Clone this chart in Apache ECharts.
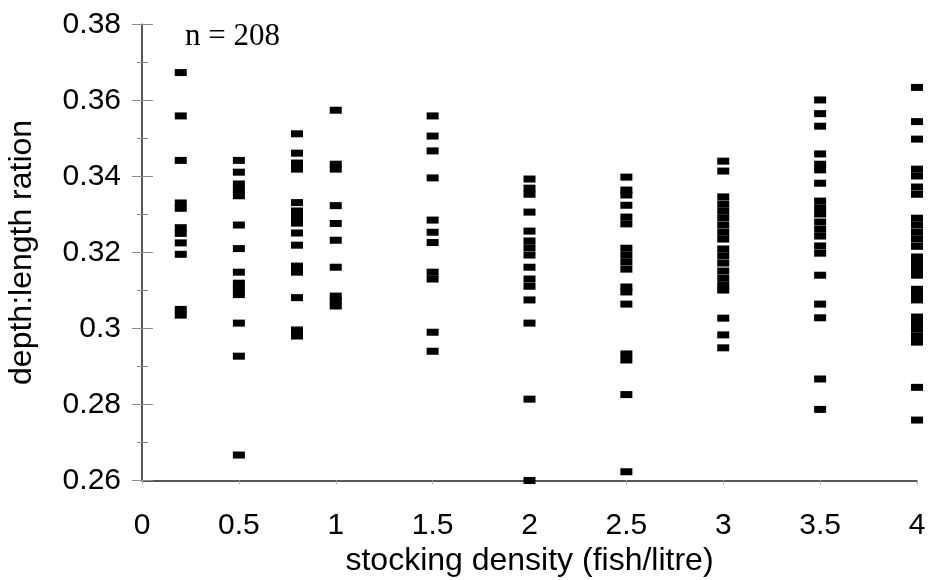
<!DOCTYPE html>
<html>
<head>
<meta charset="utf-8">
<script src="https://cdn.jsdelivr.net/npm/echarts@6/dist/echarts.min.js"></script>
<style>
  html, body { margin: 0; padding: 0; background: #fff; }
  #chart { width: 928px; height: 580px; }
</style>
</head>
<body>
<div id="chart"></div>
<script>
// Stocking densities (fish/litre) at which fish were sampled
const densities = [0.2, 0.5, 0.8, 1, 1.5, 2, 2.5, 3, 3.5, 4];

// depth:length ratio values read per density column
const d02 = [0.3673, 0.3559, 0.3442, 0.3330, 0.3316, 0.3265, 0.3250, 0.3225, 0.3195, 0.3050, 0.3035];
const d05 = [0.3442, 0.3411, 0.3380, 0.3365, 0.3349, 0.3272, 0.3210, 0.3148, 0.3119, 0.3105, 0.3089, 0.3014, 0.2927, 0.2667];
const d08 = [0.3512, 0.3461, 0.3435, 0.3419, 0.3331, 0.3309, 0.3293, 0.3277, 0.3251, 0.3219, 0.3164, 0.3148, 0.3081, 0.2996, 0.2980];
const d10 = [0.3574, 0.3432, 0.3419, 0.3323, 0.3276, 0.3232, 0.3161, 0.3085, 0.3072, 0.3059];
const d15 = [0.3559, 0.3506, 0.3467, 0.3396, 0.3285, 0.3253, 0.3226, 0.3148, 0.3130, 0.2990, 0.2940];
const d20 = [0.3393, 0.3369, 0.3353, 0.3306, 0.3256, 0.3230, 0.3212, 0.3193, 0.3161, 0.3130, 0.3111, 0.3075, 0.3014, 0.2814, 0.2600];
const d25 = [0.3398, 0.3364, 0.3351, 0.3324, 0.3293, 0.3275, 0.3211, 0.3193, 0.3175, 0.3156, 0.3109, 0.3096, 0.3064, 0.2933, 0.2917, 0.2826, 0.2623];
const d30 = [0.3440, 0.3414, 0.3346, 0.3327, 0.3309, 0.3291, 0.3272, 0.3253, 0.3235, 0.3209, 0.3191, 0.3172, 0.3151, 0.3132, 0.3114, 0.3101, 0.3027, 0.2983, 0.2949];
const d35 = [0.3601, 0.3565, 0.3532, 0.3459, 0.3432, 0.3417, 0.3382, 0.3335, 0.3317, 0.3301, 0.3280, 0.3261, 0.3243, 0.3217, 0.3198, 0.3140, 0.3064, 0.3028, 0.2867, 0.2787];
const d40 = [0.3634, 0.3544, 0.3498, 0.3419, 0.3401, 0.3372, 0.3353, 0.3290, 0.3272, 0.3253, 0.3235, 0.3216, 0.3188, 0.3172, 0.3156, 0.3140, 0.3103, 0.3087, 0.3075, 0.3030, 0.3014, 0.2998, 0.2980, 0.2964, 0.2845, 0.2759];

const columns = [d02, d05, d08, d10, d15, d20, d25, d30, d35, d40];

// Tick labels
const xTickLabels = ['0', '0.5', '1', '1.5', '2', '2.5', '3', '3.5', '4'];
const yTickLabels = ['0.26', '0.28', '0.3', '0.32', '0.34', '0.36', '0.38'];

const annotation = 'n = 208';

const points = [];
columns.forEach((col, i) => col.forEach(v => points.push([densities[i], v])));

const sansFont = "'Liberation Sans', Arial, sans-serif";
const tickStyle = { color: '#8a8a8a', width: 1 };

const yBase = {
  type: 'value', min: 0.26, max: 0.38, interval: 0.02,
  splitLine: { show: false }
};

const option = {
  animation: false,
  backgroundColor: '#ffffff',
  grid: { left: 142, right: 11, top: 24.3, bottom: 99.5, containLabel: false, outerBoundsMode: 'none' },
  xAxis: {
    type: 'value', min: 0, max: 4, interval: 0.5,
    name: 'stocking density (fish/litre)',
    nameLocation: 'middle', nameGap: 62,
    nameTextStyle: { fontFamily: sansFont, fontSize: 32, color: '#000' },
    axisLine: { show: true, onZero: false, lineStyle: { color: '#222', width: 1.5 } },
    axisTick: { show: true, length: 4, lineStyle: { color: '#b0b0b0', width: 1 } },
    splitLine: { show: false },
    axisLabel: {
      margin: 30, fontFamily: sansFont, fontSize: 30, color: '#000',
      formatter: v => xTickLabels[Math.round(v / 0.5)]
    }
  },
  yAxis: [
    Object.assign({}, yBase, {
      name: 'depth:length ration',
      nameLocation: 'middle', nameGap: 104,
      nameTextStyle: { fontFamily: sansFont, fontSize: 32, color: '#000' },
      axisLine: { show: true, onZero: false, lineStyle: { color: '#222', width: 1.5 } },
      axisTick: { show: true, inside: false, length: 10, lineStyle: tickStyle },
      minorTick: { show: true, splitNumber: 2, length: 5, lineStyle: tickStyle },
      axisLabel: {
        margin: 21, fontFamily: sansFont, fontSize: 30, color: '#000',
        formatter: v => yTickLabels[Math.round((v - 0.26) / 0.02)]
      }
    }),
    Object.assign({}, yBase, {
      position: 'left', offset: 0,
      axisLine: { show: false },
      axisTick: { show: true, inside: true, length: 11, lineStyle: tickStyle },
      minorTick: { show: true, splitNumber: 2, length: 6, lineStyle: tickStyle },
      axisLabel: { show: false }
    })
  ],
  graphic: [{
    type: 'text', left: 185, top: 21,
    style: { text: annotation, font: "31px 'Liberation Serif', 'Times New Roman', serif", fill: '#000' }
  }],
  series: [{
    type: 'scatter',
    xAxisIndex: 0, yAxisIndex: 0,
    clip: false,
    symbol: 'rect',
    symbolSize: [12, 7],
    itemStyle: { color: '#000', opacity: 1 },
    data: points
  }]
};

const chart = echarts.init(document.getElementById('chart'), null, { renderer: 'canvas' });
chart.setOption(option);
</script>
</body>
</html>
